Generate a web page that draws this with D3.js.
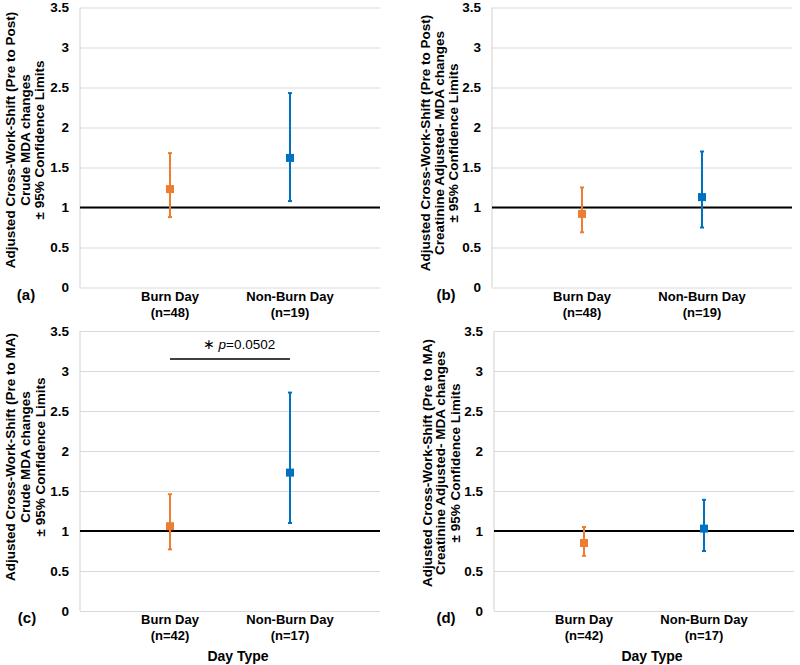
<!DOCTYPE html>
<html lang="en">
<head>
<meta charset="utf-8">
<title>Cross-work-shift MDA changes</title>
<script src="https://cdn.jsdelivr.net/npm/d3@7"></script>
<style>
  body { margin: 0; background: #fff; }
  svg { display: block; font-family: "Liberation Sans", Arial, sans-serif; }
  .tick text { font-size: 13.5px; font-weight: bold; fill: #000; }
  .tick line { stroke: #d9d9d9; stroke-width: 1.2; }
  .ylab { font-size: 13.5px; font-weight: bold; }
  .cat { font-size: 13px; font-weight: bold; }
</style>
</head>
<body>
<svg id="chart" width="800" height="665"></svg>
<script>
// data
var categories = ["Burn Day", "Non-Burn Day"];
var nPost = ["(n=48)", "(n=19)"];
var nMA = ["(n=42)", "(n=17)"];
var yTicks = [0, 0.5, 1, 1.5, 2, 2.5, 3, 3.5];

// (a) crude, pre to post
var crudePostMean = [1.23, 1.62];
var crudePostLow = [0.88, 1.08];
var crudePostHigh = [1.68, 2.43];
// (b) creatinine adjusted, pre to post
var creatPostMean = [0.92, 1.13];
var creatPostLow = [0.69, 0.75];
var creatPostHigh = [1.25, 1.70];
// (c) crude, pre to MA
var crudeMAMean = [1.06, 1.73];
var crudeMALow = [0.77, 1.10];
var crudeMAHigh = [1.46, 2.73];
// (d) creatinine adjusted, pre to MA
var creatMAMean = [0.85, 1.03];
var creatMALow = [0.69, 0.75];
var creatMAHigh = [1.05, 1.39];

var colors = ["#ED7D31", "#0070C0"];
var sigLevel = 3.15;

var panels = [
  { tag: "(a)", left: 80, top: 7.5, mean: crudePostMean, low: crudePostLow, high: crudePostHigh, n: nPost,
    title: ["Adjusted Cross-Work-Shift (Pre to Post)", "Crude MDA changes", "\u00B1 95% Confidence Limits"],
    lx: [-70, -55, -40.5], ly: 140, tagX: 26 },
  { tag: "(b)", left: 492, top: 7.5, mean: creatPostMean, low: creatPostLow, high: creatPostHigh, n: nPost,
    title: ["Adjusted Cross-Work-Shift (Pre to Post)", "Creatinine Adjusted- MDA changes", "\u00B1 95% Confidence Limits"],
    lx: [-67, -53, -39], ly: 143, tagX: 446 },
  { tag: "(c)", left: 80, top: 331, mean: crudeMAMean, low: crudeMALow, high: crudeMAHigh, n: nMA,
    title: ["Adjusted Cross-Work-Shift (Pre to MA)", "Crude MDA changes", "\u00B1 95% Confidence Limits"],
    lx: [-70, -55, -40], ly: 457, tagX: 27, sig: true, xTitle: true },
  { tag: "(d)", left: 494, top: 331, mean: creatMAMean, low: creatMALow, high: creatMAHigh, n: nMA,
    title: ["Adjusted Cross-Work-Shift (Pre to MA)", "Creatinine Adjusted- MDA changes", "\u00B1 95% Confidence Limits"],
    lx: [-67, -54, -39], ly: 463, tagX: 446, xTitle: true }
];

var width = 300, height = 280;
var svg = d3.select("#chart");

panels.forEach(function(p) {
  var x = d3.scalePoint().domain(categories).range([p.left, p.left + width]).padding(0.75);
  var y = d3.scaleLinear().domain([0, 3.5]).range([p.top + height, p.top]);
  var g = svg.append("g");

  // gridlines + tick labels
  g.append("g")
    .attr("transform", "translate(" + p.left + ",0)")
    .call(d3.axisLeft(y).tickValues(yTicks).tickSize(-width).tickPadding(11)
      .tickFormat(function(d) { return d; }))
    .call(function(a) { a.select(".domain").remove(); });

  // vertical axis line
  g.append("line")
    .attr("x1", p.left).attr("x2", p.left)
    .attr("y1", y(3.5)).attr("y2", y(0))
    .attr("stroke", "#d9d9d9").attr("stroke-width", 1.2);

  // reference line at 1
  g.append("line")
    .attr("x1", p.left).attr("x2", p.left + width)
    .attr("y1", y(1)).attr("y2", y(1))
    .attr("stroke", "#000").attr("stroke-width", 2);

  // error bars
  categories.forEach(function(c, i) {
    var cx = x(c);
    g.append("line")
      .attr("x1", cx).attr("x2", cx)
      .attr("y1", y(p.low[i])).attr("y2", y(p.high[i]))
      .attr("stroke", colors[i]).attr("stroke-width", 2);
    [p.low[i], p.high[i]].forEach(function(v) {
      g.append("line")
        .attr("x1", cx - 2).attr("x2", cx + 2)
        .attr("y1", y(v)).attr("y2", y(v))
        .attr("stroke", colors[i]).attr("stroke-width", 2);
    });
    g.append("rect")
      .attr("x", cx - 4).attr("y", y(p.mean[i]) - 4)
      .attr("width", 8).attr("height", 8)
      .attr("fill", colors[i]);

    // category labels
    g.append("text").attr("class", "cat")
      .attr("x", cx).attr("y", y(0) + 13)
      .attr("text-anchor", "middle").text(c);
    g.append("text").attr("class", "cat")
      .attr("x", cx).attr("y", y(0) + 29)
      .attr("text-anchor", "middle").text(p.n[i]);
  });

  // y title
  p.title.forEach(function(t, k) {
    g.append("text").attr("class", "ylab")
      .attr("transform", "translate(" + (p.left + p.lx[k]) + "," + p.ly + ") rotate(-90)")
      .attr("text-anchor", "middle").attr("dy", "0.35em")
      .text(t);
  });

  // panel tag
  g.append("text")
    .attr("x", p.tagX).attr("y", y(0) + 12)
    .attr("text-anchor", "middle")
    .attr("font-size", 15).attr("font-weight", "bold")
    .text(p.tag);

  if (p.xTitle) {
    g.append("text")
      .attr("x", p.left + width / 2 + 8).attr("y", y(0) + 50)
      .attr("text-anchor", "middle")
      .attr("font-size", 14).attr("font-weight", "bold")
      .text("Day Type");
  }

  if (p.sig) {
    var x0 = x(categories[0]), x1 = x(categories[1]);
    g.append("line")
      .attr("x1", x0).attr("x2", x1)
      .attr("y1", y(sigLevel)).attr("y2", y(sigLevel))
      .attr("stroke", "#000").attr("stroke-width", 1.5);
    var st = g.append("text")
      .attr("x", (x0 + x1) / 2 + 9).attr("y", y(sigLevel) - 10)
      .attr("text-anchor", "middle").attr("font-size", 13.5);
    st.append("tspan").text("\u2217 ");
    st.append("tspan").attr("font-style", "italic").text("p");
    st.append("tspan").text("=0.0502");
  }
});
</script>
</body>
</html>
